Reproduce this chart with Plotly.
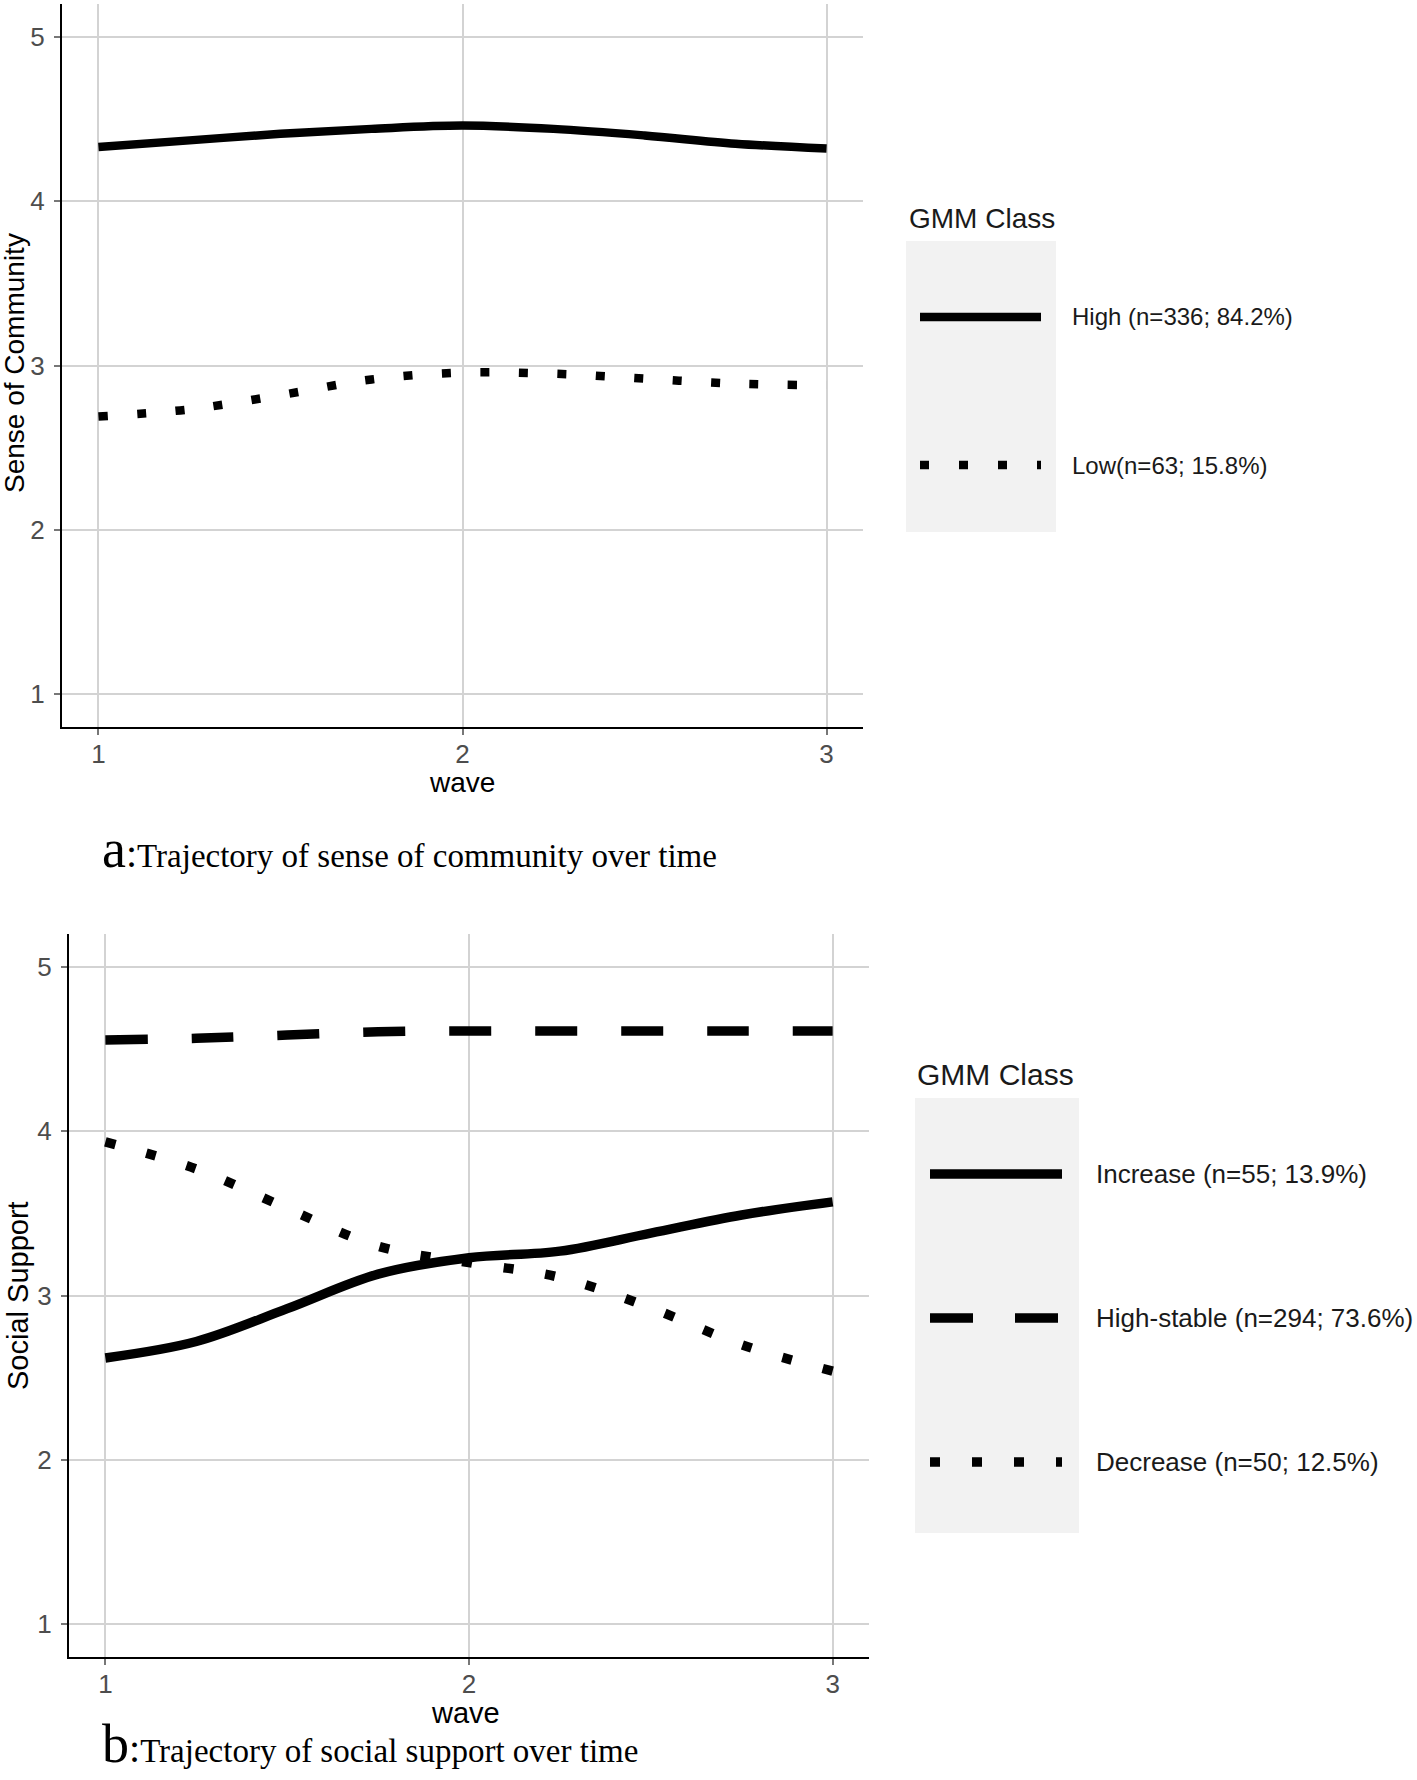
import plotly.graph_objects as go

W, H = 1417, 1780

# ---------------- data ----------------
waves = [1, 1.25, 1.5, 1.75, 2, 2.25, 2.5, 2.75, 3]

# panel a: sense of community
soc_high = [4.33, 4.37, 4.41, 4.44, 4.46, 4.44, 4.40, 4.35, 4.32]
soc_low = [2.69, 2.733, 2.82, 2.915, 2.957, 2.95, 2.92, 2.89, 2.88]
soc_labels = ["High (n=336; 84.2%)", "Low(n=63; 15.8%)"]

# panel b: social support
ss_increase = [2.62, 2.72, 2.92, 3.13, 3.23, 3.27, 3.38, 3.49, 3.57]
ss_high_stable = [4.555, 4.565, 4.585, 4.605, 4.61, 4.61, 4.61, 4.61, 4.61]
ss_decrease = [3.935, 3.77, 3.53, 3.30, 3.20, 3.11, 2.925, 2.70, 2.54]
ss_labels = ["Increase (n=55; 13.9%)", "High-stable (n=294; 73.6%)", "Decrease (n=50; 12.5%)"]

x_ticks = [1, 2, 3]
y_ticks = [1, 2, 3, 4, 5]

SANS = "Liberation Sans, Arial, sans-serif"
SERIF = "Liberation Serif, Times New Roman, serif"


def px(x):
    return x / W


def py(y):
    return 1 - y / H


fig = go.Figure()

# panel a traces
fig.add_trace(go.Scatter(x=waves, y=soc_high, mode="lines", line=dict(color="black", width=8.5, shape="spline"),
                         xaxis="x", yaxis="y", showlegend=False))
fig.add_trace(go.Scatter(x=waves, y=soc_low, mode="lines", line=dict(color="black", width=8.5, shape="spline", dash="9px,29.5px"),
                         xaxis="x", yaxis="y", showlegend=False))
# panel b traces
fig.add_trace(go.Scatter(x=waves, y=ss_increase, mode="lines", line=dict(color="black", width=9.5, shape="spline"),
                         xaxis="x2", yaxis="y2", showlegend=False))
fig.add_trace(go.Scatter(x=waves, y=ss_high_stable, mode="lines", line=dict(color="black", width=9.5, shape="spline", dash="42px,44px"),
                         xaxis="x2", yaxis="y2", showlegend=False))
fig.add_trace(go.Scatter(x=waves, y=ss_decrease, mode="lines", line=dict(color="black", width=9.5, shape="spline", dash="10px,32px"),
                         xaxis="x2", yaxis="y2", showlegend=False))

axis_common = dict(
    showgrid=True, gridcolor="#D3D3D3", gridwidth=1.5, zeroline=False,
    showline=True, linecolor="black", linewidth=2,
    ticks="outside", ticklen=6, tickwidth=1.5, tickcolor="#777777",
)

TICKFONT = dict(family=SANS, size=26, color="#4D4D4D")

fig.update_layout(
    width=W, height=H,
    margin=dict(l=0, r=0, t=0, b=0),
    paper_bgcolor="white", plot_bgcolor="white",
    showlegend=False,
    xaxis=dict(domain=[px(62), px(863)], range=[0.9, 3.1], tickvals=x_ticks, anchor="y", ticklabelstandoff=-3,
               tickfont=TICKFONT, **axis_common),
    yaxis=dict(domain=[py(727), py(4)], range=[0.8, 5.2], tickvals=y_ticks, anchor="x", ticklabelstandoff=4,
               tickfont=TICKFONT, **axis_common),
    xaxis2=dict(domain=[px(69), px(869)], range=[0.9, 3.1], tickvals=x_ticks, anchor="y2", ticklabelstandoff=-3,
                tickfont=TICKFONT, **axis_common),
    yaxis2=dict(domain=[py(1657), py(934)], range=[0.8, 5.2], tickvals=y_ticks, anchor="x2", ticklabelstandoff=4,
                tickfont=TICKFONT, **axis_common),
)

ann = []


def text(x, y, s, size, family=SANS, xanchor="left", angle=0, color="black", yanchor="middle"):
    ann.append(dict(x=px(x), y=py(y), xref="paper", yref="paper", text=s, showarrow=False,
                    xanchor=xanchor, yanchor=yanchor, textangle=angle,
                    font=dict(family=family, size=size, color=color)))


# axis titles
text(462, 782, "wave", 28, xanchor="center")
text(15, 363, "Sense of Community", 28, xanchor="center", angle=-90)
text(465, 1713, "wave", 29, xanchor="center")
text(18, 1296, "Social Support", 29, xanchor="center", angle=-90)

# legend a
text(907, 218, "GMM Class", 28, color="#1a1a1a")
text(1070, 317, soc_labels[0], 24, color="#1a1a1a")
text(1070, 465, soc_labels[1], 24, color="#1a1a1a")
# legend b
text(915, 1074, "GMM Class", 30, color="#1a1a1a")
text(1094, 1174, ss_labels[0], 26, color="#1a1a1a")
text(1094, 1318, ss_labels[1], 26, color="#1a1a1a")
text(1094, 1462, ss_labels[2], 26, color="#1a1a1a")

# captions
text(100, 849, "<span style='font-size:54px'>a</span><span style='font-size:40px'>:</span>Trajectory of sense of community over time",
     33, family=SERIF)
text(100, 1776, "<span style='font-size:54px'>b</span><span style='font-size:40px'>:</span>Trajectory of social support over time",
     33, family=SERIF, yanchor="bottom")

fig.update_layout(annotations=ann)

shapes = []


def rect(x0, y0, x1, y1):
    shapes.append(dict(type="rect", xref="paper", yref="paper", x0=px(x0), x1=px(x1), y0=py(y0), y1=py(y1),
                       fillcolor="#F2F2F2", line=dict(width=0), layer="below"))


def key(x0, x1, y, width, dash):
    shapes.append(dict(type="line", xref="paper", yref="paper", x0=px(x0), x1=px(x1), y0=py(y), y1=py(y),
                       line=dict(color="black", width=width, dash=dash), layer="above"))


rect(906, 241, 1056, 532)
key(920, 1041, 317, 8.5, "solid")
key(920, 1041, 465, 8.5, "9px,30px")

rect(915, 1098, 1079, 1533)
key(930, 1062, 1174, 9.5, "solid")
key(930, 1062, 1318, 9.5, "43px,42px")
key(930, 1062, 1462, 9.5, "10px,32px")

fig.update_layout(shapes=shapes)

fig.write_html("out.html", config={"displayModeBar": False},
               post_script="document.body.style.margin='0';")
